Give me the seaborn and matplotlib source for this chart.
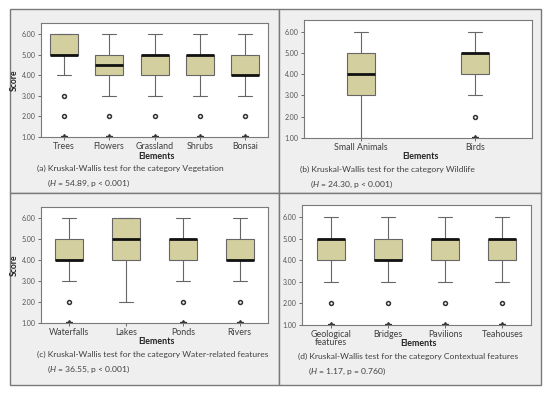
import matplotlib
matplotlib.use('Agg')
import matplotlib.pyplot as plt
import seaborn as sns
from matplotlib.patches import Rectangle

# Box summaries (scores 1-6)
veg_names = ['Trees', 'Flowers', 'Grassland', 'Shrubs', 'Bonsai']
veg_q1 = [5, 4, 4, 4, 4]
veg_med = [5, 4.5, 5, 5, 4]
veg_q3 = [6, 5, 5, 5, 5]
veg_lo = [4, 3, 3, 3, 3]
veg_hi = [6, 6, 6, 6, 6]
veg_out = [[3, 2], [2], [2], [2], [2]]
veg_ext = [[1], [1], [1], [1], [1]]

wild_names = ['Small Animals', 'Birds']
wild_q1 = [3, 4]
wild_med = [4, 5]
wild_q3 = [5, 5]
wild_lo = [1, 3]
wild_hi = [6, 6]
wild_out = [[], [2]]
wild_ext = [[], [1]]

water_names = ['Waterfalls', 'Lakes', 'Ponds', 'Rivers']
water_q1 = [4, 4, 4, 4]
water_med = [4, 5, 5, 4]
water_q3 = [5, 6, 5, 5]
water_lo = [3, 2, 3, 3]
water_hi = [6, 6, 6, 6]
water_out = [[2], [], [2], [2]]
water_ext = [[1], [], [1], [1]]

ctx_names = ['Geological\nfeatures', 'Bridges', 'Pavilions', 'Teahouses']
ctx_q1 = [4, 4, 4, 4]
ctx_med = [5, 4, 5, 5]
ctx_q3 = [5, 5, 5, 5]
ctx_lo = [3, 3, 3, 3]
ctx_hi = [6, 6, 6, 6]
ctx_out = [[2], [2], [2], [2]]
ctx_ext = [[1], [1], [1], [1]]

yticks = [1, 2, 3, 4, 5, 6]

captions = [
    ('(a) Kruskal-Wallis test for the category Vegetation', '54.89', 'p < 0.001'),
    ('(b) Kruskal-Wallis test for the category Wildlife', '24.30', 'p < 0.001'),
    ('(c) Kruskal-Wallis test for the category Water-related features', '36.55', 'p < 0.001'),
    ('(d) Kruskal-Wallis test for the category Contextual features', '1.17', 'p = 0.760'),
]

sns.set_style('white')
plt.rcParams['font.family'] = ['Lato', 'DejaVu Sans']
plt.rcParams['mathtext.fontset'] = 'custom'
plt.rcParams['mathtext.it'] = 'Lato:italic'
plt.rcParams['mathtext.rm'] = 'Lato'

W, H = 550, 394
fig = plt.figure(figsize=(W / 100, H / 100), dpi=100)
fig.patch.set_facecolor('white')

BOX = '#d3cf9e'
EDGE = '#666666'
TXT = '#404040'
FS = 6.4
CAP_FS = 6.1


def fx(x):
    return x / W


def fy(y):
    return 1 - y / H


# panel backgrounds
for (x0, y0, x1, y1) in [(10, 9, 279, 193), (279, 9, 541, 193),
                         (10, 193, 279, 385), (279, 193, 541, 385)]:
    fig.patches.append(Rectangle((fx(x0), fy(y1)), fx(x1 - x0), (y1 - y0) / H,
                                 transform=fig.transFigure, facecolor='#efefef',
                                 edgecolor='#7a7a7a', linewidth=1.0, zorder=-5))


def panel(rect, names, q1, med, q3, lo, hi, out, ext, cap, score_label):
    x0, y0, x1, y1 = rect
    ax = fig.add_axes([fx(x0), fy(y1), fx(x1 - x0), (y1 - y0) / H])
    ax.set_facecolor('white')
    n = len(names)
    wpx = 28 / ((x1 - x0) / n)
    stats = []
    for i in range(n):
        stats.append(dict(med=med[i], q1=q1[i], q3=q3[i], whislo=lo[i],
                          whishi=hi[i], fliers=out[i], label=names[i]))
    ax.bxp(stats, positions=range(n), widths=wpx, capwidths=wpx / 2,
           patch_artist=True, showfliers=True,
           boxprops=dict(facecolor=BOX, edgecolor=EDGE, linewidth=0.8),
           whiskerprops=dict(color=EDGE, linewidth=0.8),
           capprops=dict(color=EDGE, linewidth=0.8),
           medianprops=dict(color='#111111', linewidth=2.0),
           flierprops=dict(marker='o', markersize=2.8, markerfacecolor='white',
                           markeredgecolor='#333333', markeredgewidth=1.1))
    for i in range(n):
        if ext[i]:
            ax.plot([i] * len(ext[i]), ext[i], marker='*', ls='none',
                    markersize=5, color='#333333')
    ax.set_xlim(-0.5, n - 0.5)
    ax.set_ylim(1, 6.55)
    ax.set_yticks(yticks)
    ax.set_yticklabels([f'{v:.2f}' for v in yticks], fontsize=5, color='#555555')
    ax.set_xticks(range(n))
    ax.set_xticklabels(names, fontsize=FS, color=TXT, linespacing=0.9)
    ax.tick_params(axis='both', which='both', direction='out', length=2.5,
                   width=0.6, color='#555555', pad=1.5, bottom=True, left=True)
    ax.tick_params(axis='x', pad=1)
    for s in ax.spines.values():
        s.set_color('#7a7a7a')
        s.set_linewidth(0.8)
    if score_label:
        ax.set_ylabel('Score', fontsize=6.2, fontweight='bold', color='#222222',
                      labelpad=2)
    cx = (x0 + x1) / 2 + 2
    fig.text(fx(cx), fy(y1 + 19), 'Elements', ha='center', va='center',
             fontsize=FS, fontweight='bold', color='#222222')
    line1, hval, pval = cap
    fig.text(fx(x0 - 4), fy(y1 + 31), line1, ha='left', va='center',
             fontsize=CAP_FS, color=TXT)
    fig.text(fx(x0 + 6), fy(y1 + 46), f'($\\it{{H}}$ = {hval}, {pval})',
             ha='left', va='center', fontsize=CAP_FS, color=TXT)
    return ax


panel((41, 23, 268, 137), veg_names, veg_q1, veg_med, veg_q3, veg_lo, veg_hi,
      veg_out, veg_ext, captions[0], True)
panel((304, 20, 532, 138), wild_names, wild_q1, wild_med, wild_q3, wild_lo,
      wild_hi, wild_out, wild_ext, captions[1], False)
panel((41, 207, 268, 323), water_names, water_q1, water_med, water_q3,
      water_lo, water_hi, water_out, water_ext, captions[2], True)
panel((302, 205, 531, 325), ctx_names, ctx_q1, ctx_med, ctx_q3, ctx_lo,
      ctx_hi, ctx_out, ctx_ext, captions[3], False)

fig.savefig('out.png', dpi=100)
